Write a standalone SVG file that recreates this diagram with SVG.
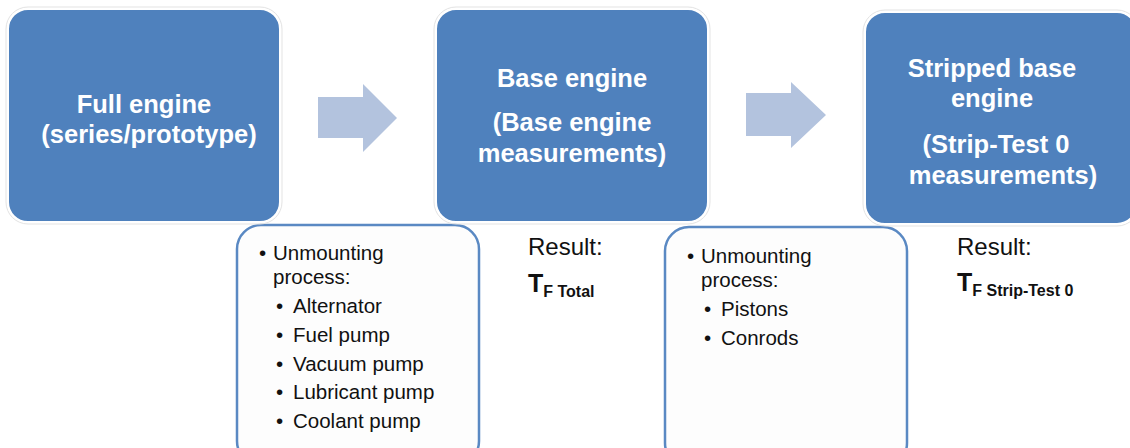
<svg xmlns="http://www.w3.org/2000/svg" width="1130" height="448" viewBox="0 0 1130 448">
<style>
.main{fill:#4f81bd;stroke:#ffffff;stroke-width:2}
.halo{fill:none;stroke:#e3e3e3;stroke-width:1}
.arrow{fill:#b3c3de}
.sub{fill:#fdfdfd;stroke:#5a89c3;stroke-width:2.5}
.t{font-family:"Liberation Sans",Arial,sans-serif;font-weight:bold;font-size:25.5px;fill:#ffffff;text-anchor:middle}
.b{font-family:"Liberation Sans",Arial,sans-serif;font-size:20.5px;fill:#111111}
.r{font-family:"Liberation Sans",Arial,sans-serif;font-size:24px;fill:#111111}
.rb{font-family:"Liberation Sans",Arial,sans-serif;font-weight:bold;fill:#111111}
</style>
<rect width="1130" height="448" fill="#ffffff"/>
<g id="sub1">
<rect class="sub" x="237" y="225" width="242" height="240" rx="24"/>
<text class="b" x="259" y="260">•</text><text class="b" x="273" y="260">Unmounting</text>
<text class="b" x="273" y="284">process:</text>
<text class="b" x="276" y="313">•</text><text class="b" x="293" y="313">Alternator</text>
<text class="b" x="276" y="342">•</text><text class="b" x="293" y="342">Fuel pump</text>
<text class="b" x="276" y="371">•</text><text class="b" x="293" y="371">Vacuum pump</text>
<text class="b" x="276" y="399">•</text><text class="b" x="293" y="399">Lubricant pump</text>
<text class="b" x="276" y="428">•</text><text class="b" x="293" y="428">Coolant pump</text>
</g>
<g id="sub2">
<rect class="sub" x="665" y="227" width="242" height="240" rx="24"/>
<text class="b" x="687" y="263">•</text><text class="b" x="701" y="263">Unmounting</text>
<text class="b" x="701" y="287">process:</text>
<text class="b" x="704" y="316">•</text><text class="b" x="721" y="316">Pistons</text>
<text class="b" x="704" y="345">•</text><text class="b" x="721" y="345">Conrods</text>
</g>
<g id="result1">
<text class="r" x="528" y="255">Result:</text>
<text class="rb" x="528" y="292" font-size="25">T<tspan font-size="16" dy="5">F Total</tspan></text>
</g>
<g id="result2">
<text class="r" x="957" y="255">Result:</text>
<text class="rb" x="957" y="291" font-size="25">T<tspan font-size="16" dy="5">F Strip-Test 0</tspan></text>
</g>
<g id="node1">
<rect class="halo" x="6" y="7" width="276" height="217" rx="22"/>
<rect class="main" x="8" y="9" width="272" height="213" rx="20"/>
<text class="t" x="144" y="113">Full engine</text>
<text class="t" x="149" y="143">(series/prototype)</text>
</g>
<g id="node2">
<rect class="halo" x="434" y="7" width="276" height="217" rx="22"/>
<rect class="main" x="436" y="9" width="272" height="213" rx="20"/>
<text class="t" x="572" y="87">Base engine</text>
<text class="t" x="572" y="131">(Base engine</text>
<text class="t" x="572" y="162">measurements)</text>
</g>
<g id="node3">
<rect class="halo" x="863" y="10" width="276" height="216" rx="22"/>
<rect class="main" x="865" y="12" width="272" height="212" rx="20"/>
<text class="t" x="992" y="77">Stripped base</text>
<text class="t" x="992" y="107">engine</text>
<text class="t" x="996" y="153">(Strip-Test 0</text>
<text class="t" x="1003" y="184">measurements)</text>
</g>
<g id="connectors">
<polygon class="arrow" points="318,97 363,97 363,84 397,118 363,152 363,138 318,138"/>
<polygon class="arrow" points="746,93 791,93 791,82 826,115 791,148 791,136 746,136"/>
</g>
</svg>
